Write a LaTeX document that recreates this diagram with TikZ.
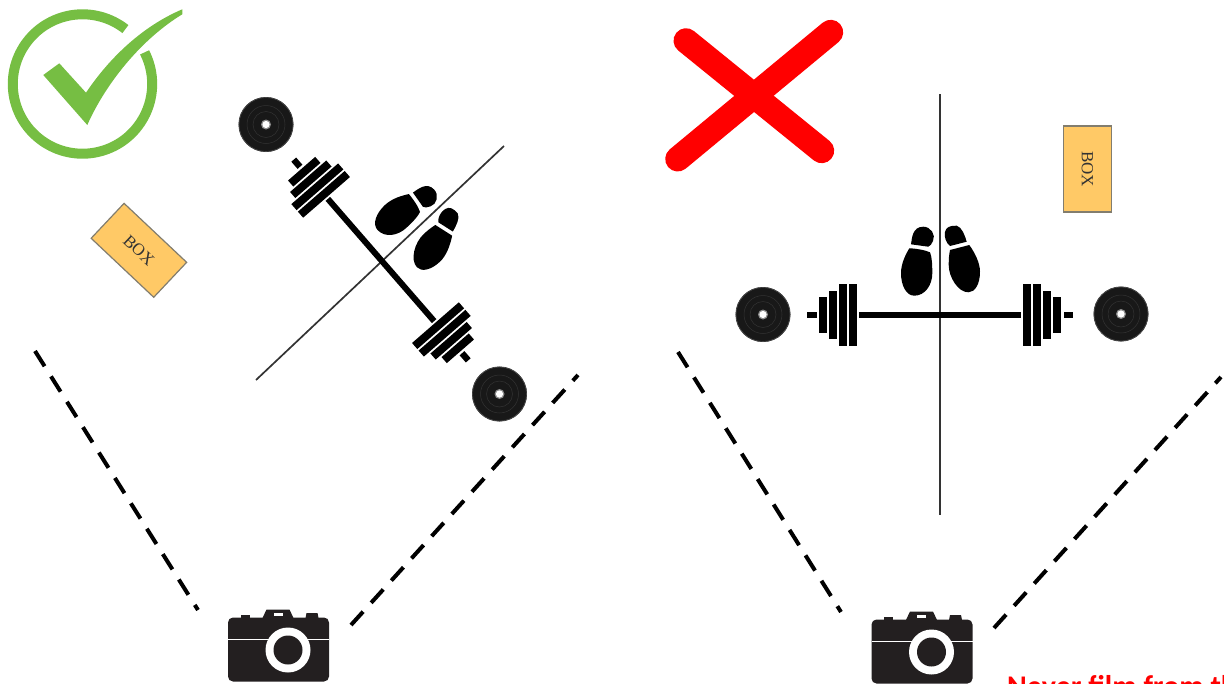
\documentclass[tikz,border=0pt]{standalone}
\usepackage{fontspec}
\setmainfont{Liberation Serif}
\newfontfamily\notefont{Carlito}
\usepackage{xcolor}
\usetikzlibrary{arrows.meta,positioning}
\definecolor{okgreen}{RGB}{118,190,67}
\definecolor{boxfill}{RGB}{255,201,102}
\definecolor{boxedge}{RGB}{130,125,110}
\definecolor{camblack}{RGB}{35,31,32}
\definecolor{plateblack}{RGB}{24,24,24}
\begin{document}
\begin{tikzpicture}[
  x=1pt, y=-1pt,
  boxnode/.style={draw=boxedge, fill=boxfill, line width=1.2pt,
                  minimum width=86pt, minimum height=48pt, inner sep=0pt,
                  text=black!80, font=\fontsize{17}{17}\selectfont},
  viewline/.style={line width=4pt, color=black, dash pattern=on 18pt off 12pt},
  axisline/.style={line width=1.7pt, color=black!80},
  crossline/.style={red, line width=25pt, line cap=round},
  plate/.pic={
    \fill[plateblack] (0,0) circle[radius=27.5pt];
    \draw[black!70, line width=.6pt] (0,0) circle[radius=27pt];
    \draw[black!80, line width=.5pt] (0,0) circle[radius=13pt];
    \draw[black!80, line width=.5pt] (0,0) circle[radius=19pt];
    \fill[black!45] (0,0) circle[radius=5pt];
    \fill[white] (0,0) circle[radius=3.6pt];
  },
  barbell/.pic={
    \fill (-81,-3) rectangle (81,3);
    \foreach \side in {-1,1} {
      \begin{scope}[xscale=\side]
        \fill (83,-31) rectangle (91,31);
        \fill (93,-31) rectangle (101,31);
        \fill (103,-24) rectangle (111,24);
        \fill (113,-18) rectangle (121,18);
        \fill (123.5,-3.2) rectangle (133,3.2);
      \end{scope}
    }
  },
  feet/.pic={
    % left foot
    \fill (-30.7,-66.7) .. controls (-24,-66.5) and (-15,-65) .. (-10,-62.7)
      .. controls (-8,-58) and (-7.7,-50) .. (-7.7,-41.7)
      .. controls (-7.7,-30) and (-15,-19.3) .. (-25.7,-19.3)
      .. controls (-34,-19.3) and (-39,-30) .. (-39,-41.7)
      .. controls (-39,-52) and (-34,-61) .. (-30.7,-66.7) -- cycle;
    \fill (-29,-70.7) .. controls (-28,-76) and (-28,-88.3) .. (-16.7,-88.3)
      .. controls (-9,-88.3) and (-4,-80) .. (-7,-74)
      .. controls (-8,-71) and (-10,-69) .. (-11.7,-68.3) -- cycle;
    % right foot
    \fill (10,-65) -- (29.3,-70) .. controls (35,-62) and (40,-52) .. (40,-43.3)
      .. controls (40,-31) and (35,-22.7) .. (28.3,-22.7)
      .. controls (18,-22.7) and (8.7,-38) .. (8.7,-50)
      .. controls (8.7,-56) and (9,-60) .. (10,-65) -- cycle;
    \fill (10,-69) .. controls (6,-72) and (4,-78) .. (5,-83)
      .. controls (6,-88) and (10,-89.5) .. (16.7,-89.3)
      .. controls (22,-88) and (25,-79) .. (26.7,-73.3) -- cycle;
  },
  camera/.pic={
    \fill[camblack, rounded corners=5pt] (-50.5,0) rectangle (50.5,64);
    \fill[camblack] (-38,0.5) -- (-38,-3) -- (-29,-3) -- (-29,0.5) -- cycle;
    \fill[camblack] (-16,0.5) -- (-12,-8) -- (11,-8) -- (15,0.5) -- cycle;
    \fill[camblack] (27,0.5) -- (28,-4.5) -- (39,-4.5) -- (40,0.5) -- cycle;
    \fill[white] (-5,-5) rectangle (4,-2);
    \draw[white, line width=1.4pt] (-50.5,22) -- (50.5,22);
    \fill[white] (9.5,32.5) circle[radius=22.5pt];
    \fill[camblack] (9.5,32.5) circle[radius=14.5pt];
  }
]
\useasboundingbox (0,0) rectangle (1224,683);
\clip (0,0) rectangle (1224,683);

% Good setup
\draw[okgreen, line width=10pt] (82.5,84) ++(52:69.7pt) arc[start angle=52, end angle=387, radius=69.7pt];
\fill[okgreen] (43.3,75) -- (59.3,63.3) -- (86,92.7)
  .. controls (110,57) and (143,26) .. (182.3,9.3) -- (182.3,14.3)
  .. controls (140,40) and (105,85) .. (87.3,125) -- cycle;

\node[boxnode, rotate=-43.3] (box_good) at (138.9,250.3) {BOX};
\draw[axisline] (256,380) -- (504,146);
\pic[rotate=-49] at (381,260) {barbell};
\pic[rotate=-47] at (381,262) {feet};
\pic at (266,124.5) {plate};
\pic at (499.5,394) {plate};
\draw[viewline] (35,351) -- (198,610);
\draw[viewline] (351,625) -- (578,375);
\pic at (278.5,617.5) {camera};

% Bad setup
\draw[crossline] (686,40.7) -- (821.7,150.7);
\draw[crossline] (830.7,32.3) -- (677.7,159);

\node[boxnode, rotate=-90] (box_bad) at (1087.5,169) {BOX};
\draw[axisline] (940,94) -- (940,515);
\pic at (940,315) {barbell};
\pic at (940,315) {feet};
\pic at (763,314.5) {plate};
\pic at (1121,314) {plate};
\draw[viewline] (678,352) -- (841,612);
\draw[viewline] (994,628) -- (1221,377);
\pic at (922,619.5) {camera};

\node[anchor=base west, inner sep=0pt, text=red, font=\notefont\bfseries\fontsize{30}{30}\selectfont] (note_bad) at (1007,696) {Never film from th};

\end{tikzpicture}
\end{document}
